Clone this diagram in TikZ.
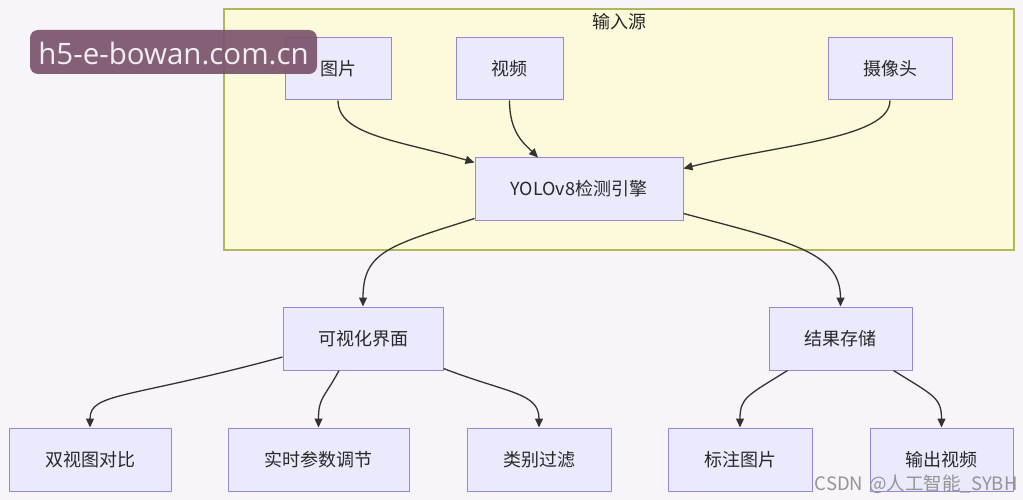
\documentclass[tikz,border=0pt]{standalone}
\usepackage{fontspec}
\newfontfamily\cjk{Noto Sans CJK SC}
\newfontfamily\wmfont{Open Sans}
\usetikzlibrary{arrows.meta,calc}
\definecolor{bg}{RGB}{248,245,250}
\definecolor{nodefill}{RGB}{234,234,252}
\definecolor{nodeline}{RGB}{152,136,212}
\definecolor{clfill}{RGB}{252,250,218}
\definecolor{clline}{RGB}{176,184,90}
\definecolor{edgec}{RGB}{51,51,51}
\definecolor{wm}{RGB}{122,84,108}
\definecolor{txt}{RGB}{40,40,40}
\tikzset{
  box/.style={draw=nodeline, fill=nodefill, line width=1pt, rectangle, minimum height=62pt, inner sep=0pt, font=\cjk\fontsize{18}{21}\selectfont, text=txt},
  edge/.style={draw=edgec, line width=1.3pt, -{Triangle[length=9pt,width=8pt]}},
}
\begin{document}
\begin{tikzpicture}[x=1pt,y=-1pt]
\fill[bg] (0,0) rectangle (1023,500);
\useasboundingbox (0,0) rectangle (1023,500);
% cluster
\draw[clline, fill=clfill, line width=1.1pt] (224,9) rectangle (1014,250);
\node[font=\cjk\fontsize{18}{21}\selectfont, text=txt] (cltitle) at (619,22) {输入源};
% nodes
\node[box, minimum width=106pt] (img) at (338,69) {图片};
\node[box, minimum width=107pt] (vid) at (509.5,69) {视频};
\node[box, minimum width=124pt] (cam) at (890,69) {摄像头};
\node[box, minimum width=208pt] (yolo) at (579,189) {YOLOv8检测引擎};
\node[box, minimum width=160pt, minimum height=63pt] (vis) at (363,338.5) {可视化界面};
\node[box, minimum width=143pt, minimum height=63pt] (store) at (840.5,338.5) {结果存储};
\node[box, minimum width=162pt, minimum height=63pt] (dual) at (90,459.5) {双视图对比};
\node[box, minimum width=181pt, minimum height=63pt] (param) at (318.5,459.5) {实时参数调节};
\node[box, minimum width=144pt, minimum height=63pt] (filt) at (539,459.5) {类别过滤};
\node[box, minimum width=144pt, minimum height=63pt] (mark) at (740,459.5) {标注图片};
\node[box, minimum width=143pt, minimum height=63pt] (outv) at (941.5,459.5) {输出视频};
% edges
\draw[edge] (img.south) .. controls +(0,35) and +(-75,-22) .. ([yshift=-5pt]yolo.north west);
\draw[edge] (vid.south) .. controls +(0,32) and +(-14,-14) .. ([xshift=-41pt]yolo.north);
\draw[edge] (cam.south) .. controls +(0,38) and +(95,-24) .. ([yshift=-11pt]yolo.north east);
\draw[edge] ([yshift=2pt]yolo.south west) .. controls +(-85,27) and +(0,-55) .. (vis.north);
\draw[edge] ([yshift=7pt]yolo.south east) .. controls +(105,28) and +(0,-55) .. (store.north);
\draw[edge] ([yshift=-18.5pt]vis.west) .. controls +(-155,42) and +(0,-35) .. (dual.north);
\draw[edge] ([xshift=-24pt]vis.south) .. controls +(-15,28) and +(0,-30) .. (param.north);
\draw[edge] ([yshift=2pt]vis.south east) .. controls +(65,25) and +(0,-35) .. (filt.north);
\draw[edge] ([xshift=19pt]store.south west) .. controls +(-40,25) and +(0,-30) .. (mark.north);
\draw[edge] ([xshift=-19pt]store.south east) .. controls +(40,25) and +(0,-30) .. (outv.north);
% watermarks
\fill[wm, fill opacity=0.92, rounded corners=8pt] (30,30) rectangle (317,74);
\node[font=\wmfont\fontsize{29.5}{31}\selectfont, text=white!90!wm, anchor=center] (wmtext) at (173.5,54) {h5-e-bowan.com.cn};
\node[font=\cjk\fontsize{18.5}{21}\selectfont, text=black!42, anchor=east] (csdn) at (1021,484) {CSDN\,\,@人工智能\_SYBH};
\end{tikzpicture}
\end{document}
